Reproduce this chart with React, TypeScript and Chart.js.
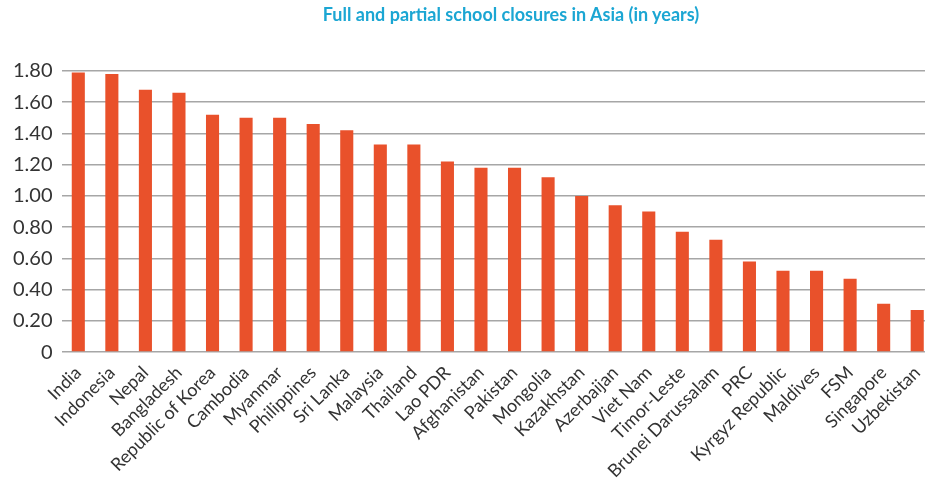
import React, { useEffect, useRef } from "react";
import { Chart, registerables } from "chart.js";

Chart.register(...registerables);

const categories = [
  "India", "Indonesia", "Nepal", "Bangladesh", "Republic of Korea", "Cambodia",
  "Myanmar", "Philippines", "Sri Lanka", "Malaysia", "Thailand", "Lao PDR",
  "Afghanistan", "Pakistan", "Mongolia", "Kazakhstan", "Azerbaijan", "Viet Nam",
  "Timor-Leste", "Brunei Darussalam", "PRC", "Kyrgyz Republic", "Maldives", "FSM",
  "Singapore", "Uzbekistan",
];

const closureYears = [
  1.79, 1.78, 1.68, 1.66, 1.52, 1.5, 1.5, 1.46, 1.42, 1.33, 1.33, 1.22,
  1.18, 1.18, 1.12, 1.0, 0.94, 0.9, 0.77, 0.72, 0.58, 0.52, 0.52, 0.47,
  0.31, 0.27,
];

const yMin = 0;
const yMax = 1.8;
const yStep = 0.2;

const titleText = "Full and partial school closures in Asia (in years)";

export default function App() {
  const canvasRef = useRef<HTMLCanvasElement | null>(null);

  useEffect(() => {
    document.body.style.margin = "0";
    const canvas = canvasRef.current;
    if (!canvas) return;
    const chart = new Chart(canvas, {
      type: "bar",
      data: {
        labels: categories,
        datasets: [
          {
            data: closureYears,
            backgroundColor: "#E9512B",
            borderWidth: 0,
            categoryPercentage: 1,
            barPercentage: 0.39,
          },
        ],
      },
      options: {
        responsive: false,
        animation: false,
        layout: { padding: { left: 4, top: 71, right: 6, bottom: -4 } },
        plugins: {
          legend: { display: false },
          title: { display: false },
          tooltip: { enabled: false },
        },
        scales: {
          x: {
            grid: { display: false },
            border: { display: false },
            ticks: {
              color: "#333333",
              font: { family: "Lato", size: 18 },
              maxRotation: 45,
              minRotation: 45,
              autoSkip: false,
              padding: 2,
            },
          },
          y: {
            min: yMin,
            max: yMax,
            border: { display: false },
            grid: { color: "#A6A6A6", lineWidth: 1.5, drawTicks: false },
            ticks: {
              stepSize: yStep,
              color: "#333333",
              font: { family: "Lato", size: 20 },
              padding: 9,
              callback: (v: any) => (Number(v) === 0 ? "0" : Number(v).toFixed(2)),
            },
          },
        },
      },
    });
    return () => chart.destroy();
  }, []);

  return (
    <div style={{ position: "relative", width: 925, height: 480, overflow: "hidden", background: "#fff" }}>
      <div
        style={{
          position: "absolute",
          top: 3,
          left: 261,
          width: 500,
          textAlign: "center",
          fontFamily: "Lato",
          fontWeight: 700,
          fontSize: 18,
          color: "#1BA6D3",
          whiteSpace: "nowrap",
        }}
      >
        {titleText}
      </div>
      <canvas ref={canvasRef} width={940} height={480} style={{ display: "block" }} />
    </div>
  );
}
